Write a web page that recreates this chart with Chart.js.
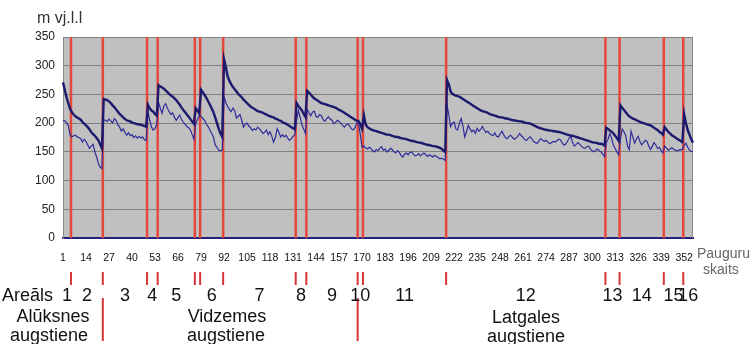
<!DOCTYPE html>
<html>
<head>
<meta charset="utf-8">
<script src="https://cdn.jsdelivr.net/npm/chart.js@4/dist/chart.umd.min.js"></script>
<style>
  html, body { margin: 0; padding: 0; background: #fff; }
</style>
</head>
<body>
<canvas id="chart" width="756" height="344"></canvas>
<script>
// hill count along the x axis (1..357), labelled every 13
var hillCount = 357;
var labels = [];
for (var i = 1; i <= hillCount; i++) labels.push(String(i));
var tickLabels = ['1','14','27','40','53','66','79','92','105','118','131','144','157','170','183','196','209','222','235','248','261','274','287','300','313','326','339','352'];

// thick line (upper)
var seriesUpper = [
  271,258,245,235,225,219,215,212,210,208,206,202,199,196,193,189,184,181,178,174,170,163,156,
  242,241,240,238,235,231,228,224,220,216,213,210,207,205,204,203,201,200,199,198,198,197,196,195,194,
  232,226,222,220,216,213,
  266,264,262,260,257,254,251,248,246,243,240,236,232,227,223,219,215,211,207,203,199,
  226,222,217,
  258,254,249,244,238,232,226,219,210,200,190,182,176,
  311,298,282,274,268,263,259,255,251,248,245,241,238,235,232,229,227,225,223,221,
  220,219,218,216,215,213,212,211,210,208,207,205,204,202,200,199,197,195,193,191,189,
  235,230,226,222,216,211,
  256,253,250,246,243,241,239,237,235,234,233,232,231,230,229,228,227,225,223,222,220,218,216,214,212,210,208,206,204,
  204,198,190,
  214,198,193,191,189,188,187,186,185,184,183,182,181,180,180,179,178,177,176,176,
  175,174,173,173,172,171,170,169,169,168,167,166,166,165,164,163,162,162,161,160,160,159,158,157,155,152,150,
  275,268,255,251,249,248,247,246,244,242,240,238,236,234,232,230,228,226,224,222,
  221,220,219,218,216,215,214,213,212,211,210,210,209,208,208,207,206,205,205,204,
  204,203,203,202,201,200,200,199,198,196,195,193,192,191,190,189,188,188,187,187,
  186,186,185,185,184,183,182,181,180,179,178,178,177,176,175,174,173,172,171,170,
  169,168,167,166,166,165,164,164,163,161,
  192,190,187,185,182,178,174,169,
  231,227,223,219,215,212,210,208,207,205,204,202,201,200,199,198,197,196,194,192,190,188,185,183,180,
  193,189,185,182,179,177,175,173,171,169,167,
  216,200,188,180,172,166
];

// thin line (lower)
var seriesLower = [
  205,204,201,196,180,176,178,179,176,175,173,167,172,168,162,156,160,163,150,141,130,123,121,
  206,205,203,207,204,200,208,205,197,193,186,190,184,179,183,178,180,175,178,174,177,174,176,171,170,
  220,205,193,188,191,198,
  236,226,217,230,234,226,220,215,218,210,205,210,214,206,202,198,194,192,188,180,172,
  200,206,213,
  212,208,205,198,194,188,182,176,162,158,153,152,153,
  246,236,229,224,220,226,222,209,212,215,205,193,198,200,195,192,187,190,188,193,
  190,186,182,184,188,180,185,177,167,175,190,184,176,180,176,179,174,170,173,177,180,
  205,222,210,197,190,182,
  224,218,213,219,221,212,210,215,213,206,203,208,211,207,205,199,201,205,203,200,196,193,197,199,195,190,188,192,200,
  200,180,158,
  160,157,155,158,156,152,150,154,152,156,159,153,155,150,152,156,154,150,148,152,
  149,144,141,146,148,145,149,150,146,143,144,147,143,146,148,145,142,145,143,141,144,142,140,138,139,137,135,
  232,215,194,200,202,190,188,200,208,195,176,185,196,190,185,188,182,191,186,189,
  194,188,184,186,182,180,178,183,177,176,181,186,180,175,173,177,179,175,172,174,
  177,182,178,175,171,170,174,176,172,168,166,165,169,173,170,168,170,167,164,166,
  168,167,169,172,171,166,162,163,168,174,176,166,160,163,166,163,160,157,156,159,
  160,155,152,150,153,155,152,150,146,142,
  166,172,182,174,162,156,150,145,
  172,190,185,178,160,154,186,176,165,172,177,168,162,166,170,168,160,154,160,166,162,156,158,152,148,
  160,157,153,155,157,155,153,152,153,154,154,
  162,165,158,153,151,150
];

// area boundaries, in hill-count units (between two hills)
var boundaries = [5.5, 23.5, 48.5, 54.5, 75.5, 78.5, 91.5, 132.5, 138.5, 167.5, 170.5, 217.5, 307.5, 315.5, 340.5, 351.5];
var regionEdges = [23.5, 167.5];
var areaNames = ['1','2','3','4','5','6','7','8','9','10','11','12','13','14','15','16'];
var areaSpans = [[1,5.5],[5.5,23.5],[23.5,48.5],[48.5,54.5],[54.5,75.5],[78.5,91.5],[91.5,132.5],[132.5,138.5],
                 [138.5,167.5],[167.5,170.5],[170.5,217.5],[217.5,307.5],[307.5,315.5],[315.5,340.5],[340.5,351.5],[351.5,357]];

var FONT = '"Liberation Sans", Arial, sans-serif';

function vline(ctx, x, y1, y2) {
  ctx.beginPath();
  ctx.moveTo(x, y1);
  ctx.lineTo(x, y2);
  ctx.stroke();
}

var annotate = {
  id: 'annotate',
  beforeDraw: function(chart) {
    var ctx = chart.ctx, a = chart.chartArea;
    ctx.save();
    ctx.fillStyle = '#c0c0c0';
    ctx.fillRect(a.left, a.top, a.right - a.left, a.bottom - a.top);
    ctx.restore();
  },
  beforeDatasetsDraw: function(chart) {
    var ctx = chart.ctx, a = chart.chartArea, x = chart.scales.x;
    ctx.save();
    ctx.strokeStyle = '#8a8a8a';
    ctx.lineWidth = 1;
    vline(ctx, a.right - 0.5, a.top, a.bottom);
    ctx.strokeStyle = '#e5483b';
    ctx.lineWidth = 2.5;
    boundaries.forEach(function(b) {
      vline(ctx, x.getPixelForValue(b - 1), a.top, a.bottom);
    });
    ctx.restore();
  },
  afterDraw: function(chart) {
    var ctx = chart.ctx, x = chart.scales.x;
    ctx.save();
    // red marks under the axis
    ctx.strokeStyle = '#d8353a';
    ctx.lineWidth = 2;
    boundaries.forEach(function(b) {
      vline(ctx, x.getPixelForValue(b - 1), 272, 285);
    });
    regionEdges.forEach(function(b) {
      vline(ctx, x.getPixelForValue(b - 1), 298, 341);
    });

    ctx.textBaseline = 'middle';
    ctx.font = '16px ' + FONT;
    ctx.textAlign = 'left';
    ctx.fillStyle = '#333';
    ctx.fillText('m vj.l.l', 37, 19);

    ctx.fillStyle = '#111';
    ctx.font = '18px ' + FONT;
    ctx.fillText('Areāls', 2, 296);
    ctx.textAlign = 'center';
    areaNames.forEach(function(n, k) {
      var s = areaSpans[k];
      var px = (x.getPixelForValue(s[0] - 1) + x.getPixelForValue(s[1] - 1)) / 2;
      ctx.fillText(n, px, 296);
    });
    ctx.fillText('Alūksnes', 53, 317);
    ctx.fillText('augstiene', 49, 336);
    ctx.fillText('Vidzemes', 227, 317);
    ctx.fillText('augstiene', 226, 336);
    ctx.fillText('Latgales', 526, 318);
    ctx.fillText('augstiene', 526, 337);

    ctx.fillStyle = '#666';
    ctx.font = '14px ' + FONT;
    ctx.textAlign = 'left';
    ctx.fillText('Pauguru', 697, 254);
    ctx.fillText('skaits', 703, 270);
    ctx.restore();
  }
};

new Chart(document.getElementById('chart'), {
  type: 'line',
  data: {
    labels: labels,
    datasets: [{
      data: seriesUpper,
      borderColor: '#1c1a6e',
      borderWidth: 2.4,
      pointRadius: 0,
      tension: 0
    }, {
      data: seriesLower,
      borderColor: '#2e2c9a',
      borderWidth: 1.2,
      pointRadius: 0,
      tension: 0
    }]
  },
  options: {
    responsive: false,
    animation: false,
    events: [],
    layout: { padding: { top: 37, right: 63, left: 0, bottom: 0 } },
    plugins: { legend: { display: false }, tooltip: { enabled: false } },
    scales: {
      x: {
        offset: false,
        grid: { display: false },
        border: { color: '#22207a', width: 2 },
        ticks: {
          autoSkip: false,
          maxRotation: 0,
          minRotation: 0,
          padding: 6,
          color: '#111',
          font: { family: FONT, size: 10.5 },
          callback: function(v, i) {
            return tickLabels.indexOf(labels[i]) >= 0 ? labels[i] : '';
          }
        },
        afterFit: function(s) { s.height = 106; }
      },
      y: {
        min: 0,
        max: 350,
        grid: { color: '#808080', lineWidth: 1, drawTicks: false },
        border: { color: '#8a8a8a', width: 1 },
        ticks: {
          stepSize: 50,
          padding: 8,
          color: '#222',
          font: { family: FONT, size: 12 }
        },
        afterFit: function(s) { s.width = 63; }
      }
    }
  },
  plugins: [annotate]
});
</script>
</body>
</html>
